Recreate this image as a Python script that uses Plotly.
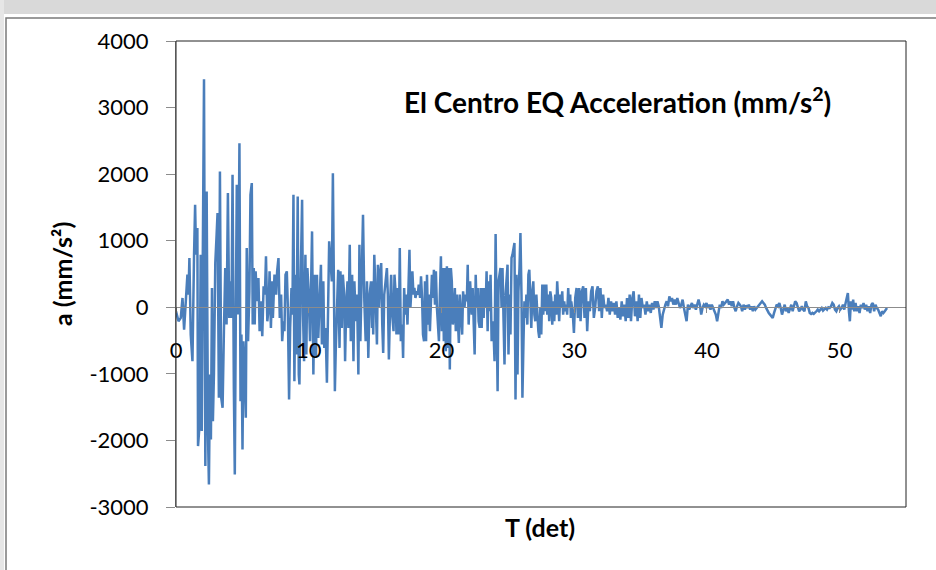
import plotly.graph_objects as go

# El Centro EQ acceleration as (time s, acceleration mm/s^2) vertices
seg_0_7 = [
    (0.00, -60), (0.19, -210), (0.36, -160), (0.49, 140), (0.61, -335), (0.76, 240), (0.86, 490),
    (0.94, 190), (1.01, 740), (1.11, -410), (1.24, -810), (1.36, 790), (1.44, 1540), (1.51, 790),
    (1.61, 1190), (1.66, -2085), (1.76, -1810), (1.86, 790), (1.94, -1860), (2.01, 490),
    (2.11, 3425), (2.21, -2385), (2.31, 1740), (2.41, -1910), (2.48, -2660), (2.56, -1010),
    (2.63, -1985), (2.71, 290), (2.78, -1710), (2.86, -985), (2.96, 665), (3.06, 1090),
    (3.13, 1415), (3.23, -1360), (3.31, 2040), (3.41, -1360), (3.51, -1510), (3.61, -360),
    (3.71, 590), (3.81, -260), (3.91, 1715), (4.01, -160), (4.08, 390), (4.18, -160),
    (4.26, 1990), (4.36, -1235), (4.43, -2510), (4.51, -10), (4.58, 1840), (4.68, -110),
    (4.78, 2465), (4.86, -1410), (4.93, -410), (5.01, -2135), (5.08, -510), (5.18, -1010),
    (5.26, -1660), (5.33, 890), (5.43, -510), (5.53, 240), (5.61, 1690), (5.71, 1865),
    (5.78, -260), (5.86, 590), (5.93, -260), (6.00, 540), (6.11, 90), (6.21, 440), (6.30, -360),
    (6.40, 90), (6.50, -435), (6.60, 315), (6.70, 190), (6.78, 765), (6.88, -210), (6.98, -10),
    (7.05, 540), (7.15, -310), (7.25, 390),
]
seg_7_15 = [
    (7.30, -160), (7.42, 490), (7.55, 190), (7.62, 540), (7.72, 740), (7.82, -160), (7.92, 190),
    (8.00, -510), (8.10, -210), (8.17, -360), (8.25, 490), (8.35, 540), (8.42, 40), (8.52, -1385),
    (8.60, -310), (8.70, 290), (8.77, -110), (8.85, 1690), (8.92, -1110), (9.00, 490),
    (9.07, -710), (9.17, 1665), (9.25, -1010), (9.30, -1160), (9.40, 490), (9.50, 1615),
    (9.57, -110), (9.65, -810), (9.75, 790), (9.82, -710), (9.90, 590), (10.00, 190),
    (10.10, -510), (10.17, 490), (10.25, 1140), (10.35, -1010), (10.45, 490), (10.55, -760),
    (10.62, 490), (10.72, -460), (10.82, 190), (10.92, 640), (10.99, -560), (11.10, 390),
    (11.17, -610), (11.27, -310), (11.37, -1135), (11.44, 40), (11.54, 990), (11.64, 690),
    (11.74, 390), (11.82, 2015), (11.89, -310), (11.97, -1260), (12.04, -610), (12.12, -160),
    (12.22, 565), (12.32, -610), (12.39, 540), (12.49, -310), (12.57, 490), (12.67, 190),
    (12.74, -810), (12.82, -10), (12.92, 390), (12.99, -310), (13.09, 940), (13.17, -510),
    (13.27, 490), (13.37, -810), (13.44, 390), (13.54, -210), (13.64, 190), (13.74, -1010),
    (13.82, 940), (13.89, -510), (13.99, 390), (14.09, 1390), (14.19, 90), (14.29, -510),
    (14.39, 390), (14.49, -760), (14.59, 190), (14.69, 390), (14.77, -310),
]
seg_15_22 = [
    (14.79, 390), (14.86, -410), (14.94, 790), (15.01, 340), (15.09, -160), (15.14, -560),
    (15.21, 640), (15.29, -10), (15.39, 540), (15.46, 665), (15.54, -260), (15.61, -685),
    (15.69, 190), (15.79, 390), (15.89, 590), (15.96, 190), (16.04, -785), (16.14, 90),
    (16.21, 490), (16.29, -110), (16.39, -360), (16.46, 490), (16.54, 240), (16.61, -410),
    (16.71, 290), (16.79, -410), (16.86, 890), (16.94, -510), (17.04, -260), (17.11, -760),
    (17.19, 290), (17.26, -110), (17.34, 190), (17.44, -260), (17.51, 490), (17.59, 865),
    (17.66, -10), (17.74, 390), (17.81, 540), (17.89, 190), (17.96, 290), (18.04, 140),
    (18.14, 240), (18.21, 190), (18.29, 340), (18.39, 140), (18.46, 465), (18.54, 140),
    (18.61, -410), (18.69, -510), (18.76, 390), (18.84, -510), (18.91, 490), (18.99, -260),
    (19.06, 190), (19.13, -360), (19.21, 140), (19.28, 490), (19.36, 140), (19.43, 565),
    (19.51, 40), (19.58, 540), (19.66, -10), (19.73, -310), (19.81, -510), (19.88, 190),
    (19.96, 765), (20.03, -360), (20.11, 590), (20.18, -510), (20.26, 590), (20.33, -660),
    (20.41, 615), (20.48, -610), (20.56, 590), (20.63, -935), (20.71, 590), (20.78, 390),
    (20.86, -260), (20.93, -110), (21.01, 290), (21.08, -360), (21.16, 190), (21.23, -160),
    (21.31, -535), (21.38, 190), (21.48, -110), (21.56, -410), (21.63, 240), (21.73, -10),
    (21.83, 190), (21.91, 90), (21.98, 640), (22.05, -260), (22.16, 390), (22.23, 190),
]
seg_22_30 = [
    (22.28, -110), (22.35, 290), (22.43, -560), (22.50, -710), (22.58, 490), (22.65, -10),
    (22.73, 290), (22.80, -210), (22.88, -310), (22.95, 290), (23.03, -310), (23.10, 290),
    (23.18, -160), (23.25, 290), (23.33, -10), (23.40, 540), (23.48, -360), (23.55, 390),
    (23.63, -60), (23.70, 490), (23.78, -510), (23.85, -210), (23.93, -410), (24.00, -810),
    (24.08, 1100), (24.15, -310), (24.23, -1260), (24.30, 390), (24.38, 490), (24.45, 590),
    (24.53, -10), (24.60, 590), (24.68, -210), (24.75, -860), (24.83, 190), (24.90, 490),
    (24.98, 640), (25.05, -710), (25.13, 190), (25.20, -410), (25.28, 740), (25.35, 790),
    (25.43, 890), (25.50, 965), (25.58, -1385), (25.65, 490), (25.73, -1010), (25.80, 240),
    (25.88, 590), (25.95, 1115), (26.03, 190), (26.10, -1360), (26.18, -510), (26.25, 90),
    (26.32, -160), (26.40, 190), (26.47, -260), (26.55, 490), (26.62, 565), (26.70, -10),
    (26.77, -310), (26.85, 240), (26.92, 390), (27.00, -110), (27.07, -210), (27.15, 190),
    (27.22, -160), (27.30, -360), (27.37, -460), (27.45, -10), (27.52, -410), (27.60, 340),
    (27.67, -110), (27.75, 340), (27.82, -60), (27.90, 340), (27.97, -110), (28.05, 190),
    (28.12, -210), (28.20, 240), (28.27, 140), (28.35, -260), (28.42, 90), (28.50, -210),
    (28.57, 190), (28.65, -110), (28.72, 390), (28.80, 40), (28.87, -210), (28.95, 190),
    (29.02, -10), (29.10, 240), (29.17, -110), (29.25, 90), (29.32, -60), (29.40, 40),
    (29.47, -110), (29.55, 290), (29.62, -10), (29.70, 190), (29.75, -160),
]
seg_30_42 = [
    (29.78, 90), (29.90, -110), (29.98, -385), (30.08, 140), (30.18, 290), (30.28, -160),
    (30.38, 290), (30.48, -210), (30.58, 240), (30.68, 315), (30.78, -160), (30.88, 290),
    (30.98, -360), (31.08, 90), (31.18, -60), (31.28, 240), (31.38, 315), (31.48, -160),
    (31.58, -10), (31.68, 240), (31.78, 315), (31.88, -60), (31.98, 290), (32.08, -160),
    (32.18, 190), (32.28, -10), (32.38, 40), (32.48, -60), (32.58, 140), (32.68, -110),
    (32.78, 90), (32.88, -60), (32.98, 65), (33.08, -110), (33.18, 90), (33.28, -160),
    (33.38, -10), (33.48, -185), (33.58, 90), (33.68, -135), (33.78, 40), (33.88, -210),
    (33.98, 140), (34.08, -160), (34.18, 190), (34.28, -210), (34.38, 140), (34.48, 240),
    (34.58, -135), (34.68, 90), (34.78, -210), (34.88, 190), (34.98, -160), (35.07, 140),
    (35.17, -10), (35.27, 40), (35.37, -110), (35.47, 90), (35.57, -60), (35.67, 40),
    (35.77, -85), (35.87, 65), (35.97, -35), (36.07, 90), (36.17, -10), (36.27, 90),
    (36.37, 15), (36.47, -160), (36.57, -310), (36.67, -110), (36.77, -10), (36.87, 40),
    (36.97, 90), (37.07, 15), (37.17, 165), (37.27, 90), (37.37, 140), (37.47, 40),
    (37.57, 115), (37.67, 40), (37.77, 140), (37.87, 65), (37.97, -10), (38.07, 40),
    (38.17, 115), (38.27, -10), (38.37, -110), (38.47, -210), (38.57, 40), (38.67, -35),
    (38.77, 15), (38.87, 65), (38.97, -10), (39.07, 40), (39.17, -35), (39.27, 65),
    (39.37, 115), (39.47, 40), (39.57, -110), (39.67, -10), (39.77, 40), (39.87, 15),
    (39.97, 65), (40.07, -10), (40.17, 40), (40.27, -35), (40.37, 40), (40.47, -10),
    (40.57, -60), (40.67, -110), (40.77, -210), (40.87, -35), (40.97, 40), (41.07, -10),
    (41.17, 90), (41.27, 40), (41.37, 65), (41.47, 90), (41.57, 115), (41.67, 40),
    (41.77, 90), (41.87, 15), (41.97, 90), (42.07, -10), (42.17, -60), (42.27, 15),
    (42.37, 65), (42.47, 40),
]
seg_42_54 = [
    (42.56, 15), (42.66, -60), (42.76, 40), (42.86, -35), (42.96, 30), (43.06, -10),
    (43.16, 40), (43.26, -35), (43.36, 15), (43.46, -60), (43.56, 15), (43.66, -35),
    (43.76, -10), (43.86, 15), (43.96, 40), (44.06, 65), (44.16, 90), (44.26, 65),
    (44.36, 40), (44.46, -10), (44.56, -60), (44.66, -85), (44.76, -110), (44.86, -135),
    (44.96, -160), (45.06, -85), (45.16, -10), (45.26, 40), (45.36, 15), (45.46, 65),
    (45.56, -10), (45.66, -110), (45.76, -35), (45.86, 40), (45.96, -60), (46.06, -10),
    (46.16, -85), (46.26, -10), (46.36, 40), (46.46, -60), (46.56, 15), (46.65, 90),
    (46.75, 65), (46.85, -10), (46.95, -60), (47.05, -35), (47.15, 15), (47.25, -35),
    (47.35, -60), (47.45, 90), (47.55, 15), (47.65, -10), (47.75, -85), (47.85, -100),
    (47.95, -85), (48.05, -100), (48.15, -85), (48.25, -60), (48.35, -35), (48.45, -60),
    (48.55, -35), (48.65, -10), (48.75, -50), (48.85, -35), (48.95, -10), (49.05, -35),
    (49.15, 0), (49.25, -10), (49.35, 15), (49.45, 65), (49.55, 40), (49.65, -35),
    (49.75, -60), (49.85, -10), (49.95, 15), (50.05, -35), (50.15, -10), (50.25, 40),
    (50.35, -35), (50.45, 65), (50.55, 140), (50.62, 215), (50.70, -60), (50.77, -210),
    (50.85, 90), (50.95, -35), (51.02, 115), (51.10, -60), (51.20, 65), (51.30, -60),
    (51.40, 15), (51.50, -85), (51.60, 40), (51.70, -10), (51.80, 65), (51.90, -35),
    (52.00, 40), (52.10, -60), (52.20, 15), (52.30, -85), (52.40, 40), (52.50, 65),
    (52.60, -60), (52.70, 40), (52.80, -10), (52.90, -35), (53.00, -85), (53.10, -135),
    (53.20, -60), (53.30, -85), (53.40, -60), (53.50, -35), (53.57, -10),
]

x_ticks = [0, 10, 20, 30, 40, 50]
y_ticks = [-3000, -2000, -1000, 0, 1000, 2000, 3000, 4000]
x_range = [0, 55]
y_range = [-3000, 4000]

segments = [seg_0_7, seg_7_15, seg_15_22, seg_22_30, seg_30_42, seg_42_54]
time_s = [p[0] for s in segments for p in s]
accel = [p[1] for s in segments for p in s]

W, H = 936, 570
L, R, T, B = 176, 30, 41, 63
pw, ph = W - L - R, H - T - B


def px(x):
    return (x - L) / pw


def py(y):
    return (H - B - y) / ph


FONT = "Lato, Carlito, Arial"

fig = go.Figure()
fig.add_trace(go.Scatter(x=time_s, y=accel, mode="lines",
                         line=dict(color="#4a7ebb", width=2.5), showlegend=False,
                         hoverinfo="x+y"))

tickfont = dict(family=FONT, size=22, color="#000000")
fig.update_layout(
    width=W, height=H,
    margin=dict(l=L, r=R, t=T, b=B, autoexpand=False),
    paper_bgcolor="white", plot_bgcolor="white",
    xaxis=dict(range=x_range, tickvals=x_ticks, ticktext=[str(v) for v in x_ticks],
               showgrid=False, zeroline=False, showline=True, linecolor="#8c8c8c",
               linewidth=1, ticks="outside", ticklen=5, tickcolor="#8c8c8c",
               anchor="free", position=(0 - y_range[0]) / (y_range[1] - y_range[0]),
               tickfont=tickfont, ticklabelstandoff=18),
    yaxis=dict(range=y_range, tickvals=y_ticks, ticktext=[str(v) for v in y_ticks],
               showgrid=False, zeroline=False, showline=True, linecolor="#8c8c8c",
               linewidth=1, ticks="outside", ticklen=9, tickcolor="#8c8c8c",
               tickfont=tickfont, ticklabelstandoff=13),
    shapes=[
        # light grey band of the scanned page above the chart
        dict(type="rect", xref="paper", yref="paper", x0=px(-5), x1=px(W + 5),
             y0=py(14), y1=py(-5), fillcolor="#d9d9d9", line=dict(width=0), layer="below"),
        dict(type="rect", xref="paper", yref="paper", x0=px(-5), x1=px(4),
             y0=py(H + 5), y1=py(-5), fillcolor="#e6e6e6", line=dict(width=0), layer="below"),
        # chart area border
        dict(type="rect", xref="paper", yref="paper", x0=px(6), x1=px(W + 10),
             y0=py(H + 10), y1=py(18), line=dict(color="#7a7a7a", width=1.5),
             fillcolor="rgba(0,0,0,0)"),
        # plot area border
        dict(type="rect", xref="paper", yref="paper", x0=0, x1=1, y0=0, y1=1,
             line=dict(color="#222222", width=1), fillcolor="rgba(0,0,0,0)"),
    ],
    annotations=[
        dict(text="El Centro EQ Acceleration (mm/s<sup>2</sup>)", xref="paper", yref="paper",
             x=px(617), y=py(100), xanchor="center", yanchor="middle", showarrow=False,
             font=dict(family=FONT, size=28, color="#000000", weight="bold")),
        dict(text="T (det)", xref="paper", yref="paper", x=px(540), y=py(527),
             xanchor="center", yanchor="middle", showarrow=False,
             font=dict(family=FONT, size=25, color="#000000", weight="bold")),
        dict(text="a (mm/s²)", xref="paper", yref="paper", x=px(62), y=py(274),
             xanchor="center", yanchor="middle", showarrow=False, textangle=-90,
             font=dict(family=FONT, size=25, color="#000000", weight="bold")),
    ],
)

fig.write_html("out.html", config={"displayModeBar": False},
               post_script="document.body.style.margin='0';")
